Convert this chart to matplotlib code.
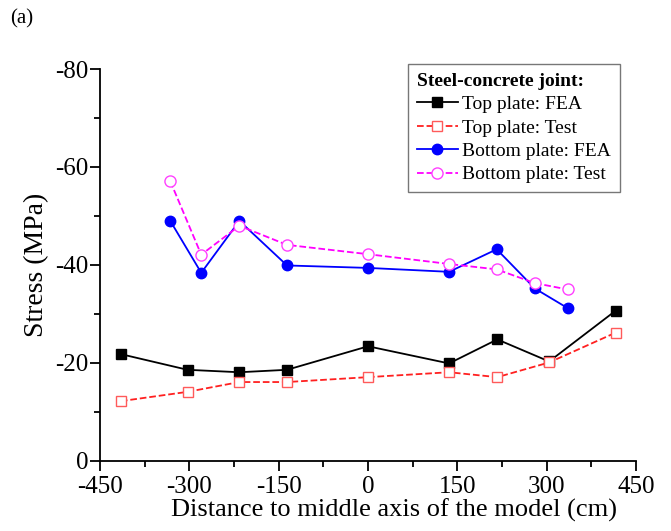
import matplotlib.pyplot as plt
from matplotlib.ticker import MultipleLocator

plt.rcParams['font.family'] = 'Liberation Serif'
plt.rcParams['axes.unicode_minus'] = False

# top plate positions / stresses
x_top = [-415, -303, -216, -136, 0, 136, 217, 304, 416]
top_fea = [-21.8, -18.6, -18.1, -18.6, -23.4, -19.9, -24.8, -20.3, -30.7]
top_test = [-12.2, -14.1, -16.1, -16.1, -17.1, -18.1, -17.1, -20.1, -26.2]

# bottom plate positions / stresses
x_bot = [-332, -280, -216, -136, 0, 136, 216, 280, 335]
bot_fea = [-49.0, -38.4, -49.0, -39.9, -39.4, -38.6, -43.2, -35.2, -31.2]
bot_test = [-57.1, -42.1, -48.0, -44.1, -42.2, -40.2, -39.1, -36.3, -35.0]

fig = plt.figure(figsize=(6.71, 5.31), dpi=100)
ax = fig.add_axes([0.149, 0.132, 0.799, 0.738])

ax.plot(x_top, top_fea, '-', color='black', marker='s', markersize=7, lw=1.3, label='Top plate: FEA')
ax.plot(x_top, top_test, '--', color='#ff2020', marker='s', markersize=7.5, lw=1.3,
        mfc='white', mec='#ff5a5a', label='Top plate: Test')
ax.plot(x_bot, bot_fea, '-', color='#0000ff', marker='o', markersize=7.5, lw=1.3, label='Bottom plate: FEA')
ax.plot(x_bot, bot_test, '--', color='#ff00ff', marker='o', markersize=8, lw=1.3,
        mfc='white', mec='#ff40ff', label='Bottom plate: Test')

ax.set_xlim(-450, 450)
ax.set_ylim(0, -80)
ax.xaxis.set_major_locator(MultipleLocator(150))
ax.xaxis.set_minor_locator(MultipleLocator(75))
ax.yaxis.set_major_locator(MultipleLocator(20))
ax.yaxis.set_minor_locator(MultipleLocator(10))
ax.tick_params(which='major', direction='out', length=7, width=1.3, labelsize=18)
ax.tick_params(axis='x', which='major', pad=4)
ax.tick_params(axis='y', which='major', pad=1.5)
ax.tick_params(which='minor', direction='out', length=4, width=1.3)
for s in ['top', 'right']:
    ax.spines[s].set_visible(False)
for s in ['left', 'bottom']:
    ax.spines[s].set_linewidth(1.3)

ax.set_xlabel('Distance to middle axis of the model (cm)', fontsize=19)
ax.xaxis.set_label_coords(0.549, -0.095)
ax.set_ylabel('Stress (MPa)', fontsize=20, labelpad=4)

leg = ax.legend(loc='upper right', bbox_to_anchor=(0.97, 1.013), borderaxespad=0, fontsize=14,
                title='Steel-concrete joint:', title_fontproperties={'weight': 'bold', 'size': 14},
                frameon=True, fancybox=False, edgecolor='#555555', handlelength=2.1,
                handletextpad=0.25, labelspacing=0.3, borderpad=0.45)
leg._legend_box.align = 'left'
leg.get_frame().set_linewidth(1.0)

fig.text(0.015, 0.955, '(a)', fontsize=15)

plt.savefig('out.png')
